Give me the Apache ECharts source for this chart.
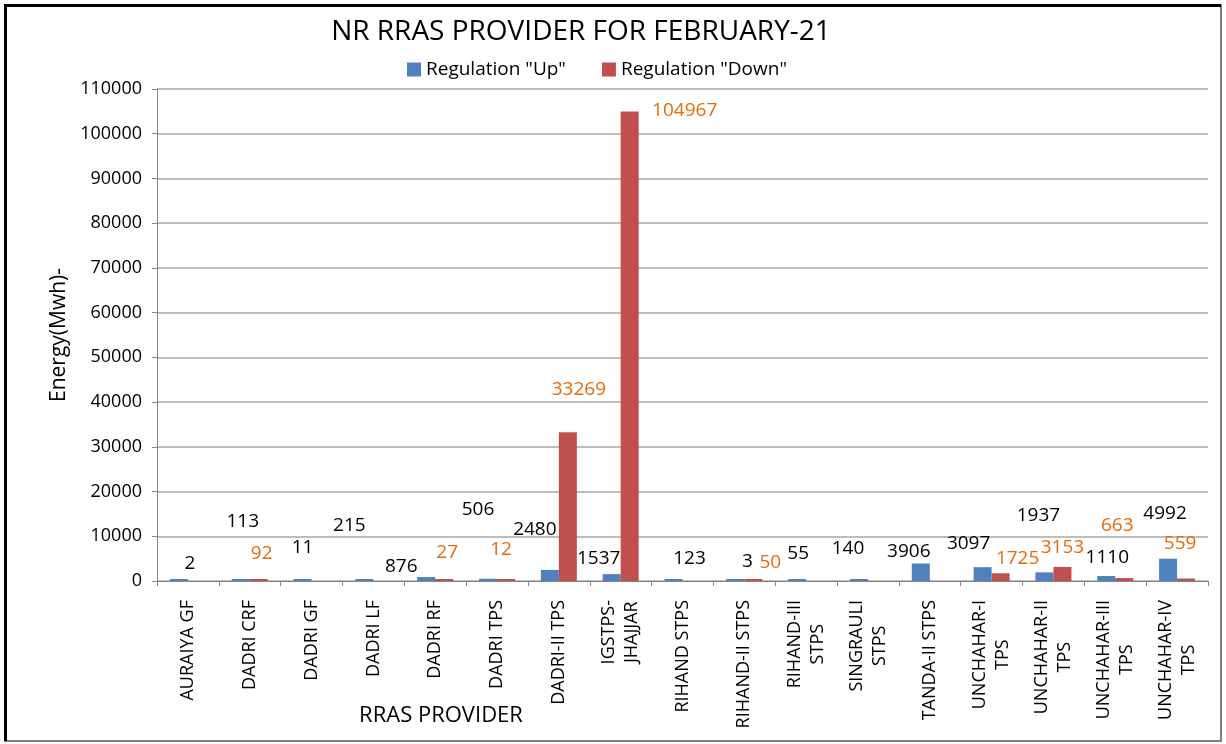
<!DOCTYPE html>
<html>
<head>
<meta charset="utf-8">
<script src="https://cdn.jsdelivr.net/npm/echarts@6/dist/echarts.min.js"></script>
<style>
  html, body { margin: 0; padding: 0; background: #fff; }
  #main { width: 1226px; height: 744px; }
</style>
</head>
<body>
<div id="main"></div>
<script>
// data
var providers = [
  "AURAIYA GF", "DADRI CRF", "DADRI GF", "DADRI LF", "DADRI RF", "DADRI TPS",
  "DADRI-II TPS", "IGSTPS-\nJHAJJAR", "RIHAND STPS", "RIHAND-II STPS",
  "RIHAND-III\nSTPS", "SINGRAULI\nSTPS", "TANDA-II STPS", "UNCHAHAR-I\nTPS",
  "UNCHAHAR-II\nTPS", "UNCHAHAR-III\nTPS", "UNCHAHAR-IV\nTPS"
];
var regUp = [2, 113, 11, 215, 876, 506, 2480, 1537, 123, 3, 55, 140, 3906, 3097, 1937, 1110, 4992];
var regDown = [null, 92, null, null, 27, 12, 33269, 104967, null, 50, null, null, null, 1725, 3153, 663, 559];

// label nudges (the original had hand-placed data labels)
var upLabelShift = [[11, -1], [2, -43], [0, -17], [-15, -39], [-25, 4], [-10, -55], [-15, -26], [-13, -1],
  [16, -6], [12, -3], [1, -11], [-11, -16], [-12, 3], [-14, -9], [-6, -42], [1, -4], [-3, -31]];
var downLabelShift = [null, [3, -11], null, null, [3, -12], [-5, -15], [11, -28], [55, 13.5],
  null, [17, -2], null, null, null, [17, 0], [0, -5], [-7, -38], [-6, -20]];

var FONT = "Open Sans";

function withLabels(values, shifts) {
  return values.map(function (v, i) {
    if (v === null) return null;
    return {
      value: v,
      label: { offset: shifts[i] }
    };
  });
}

var myChart = echarts.init(document.getElementById("main"));

var option = {
  animation: false,
  backgroundColor: "#fff",
  textStyle: { fontFamily: FONT },
  title: [
    {
      text: "NR RRAS PROVIDER FOR FEBRUARY-21",
      left: 576,
      top: 13,
      textAlign: "center",
      textStyle: { fontFamily: FONT, fontSize: 28, fontWeight: "normal", color: "#000" }
    },
    {
      text: "RRAS PROVIDER",
      left: 436,
      top: 700,
      textAlign: "center",
      textStyle: { fontFamily: FONT, fontSize: 22, fontWeight: "normal", color: "#000" }
    }
  ],
  legend: {
    left: 402,
    top: 55,
    itemWidth: 14,
    itemHeight: 14,
    itemGap: 36,
    icon: "rect",
    textStyle: { fontFamily: FONT, fontSize: 19, color: "#000" },
    data: ['Regulation "Up"', 'Regulation "Down"']
  },
  grid: { left: 157, right: 18, top: 89, bottom: 163 },
  xAxis: {
    type: "category",
    data: providers,
    axisLine: { lineStyle: { color: "#868686", width: 1 } },
    axisTick: { show: true, length: 5, lineStyle: { color: "#868686" } },
    axisLabel: {
      rotate: 90,
      margin: 19,
      interval: 0,
      formatter: function (v) {
        return v.split("\n").map(function (s) { return "{c|" + s + "}"; }).join("\n");
      },
      rich: {
        c: { align: "center", fontFamily: FONT, fontSize: 18, color: "#000", lineHeight: 23 }
      }
    }
  },
  yAxis: {
    type: "value",
    min: 0,
    max: 110000,
    interval: 10000,
    name: "Energy(Mwh)-",
    nameLocation: "middle",
    nameGap: 84,
    nameTextStyle: { fontFamily: FONT, fontSize: 21, color: "#000" },
    axisLine: { show: true, lineStyle: { color: "#868686", width: 1 } },
    axisTick: { show: true, length: 5, lineStyle: { color: "#868686" } },
    axisLabel: {
      margin: 15,
      fontFamily: FONT,
      fontSize: 18,
      color: "#000",
      formatter: function (v) { return String(v); }
    },
    splitLine: { lineStyle: { color: "#BDBDBD", width: 2 } }
  },
  series: [
    {
      name: 'Regulation "Up"',
      type: "bar",
      barWidth: 18,
      barGap: "0%",
      barMinHeight: 2,
      itemStyle: { color: "#4F81BD" },
      label: {
        show: true,
        position: "top",
        fontFamily: FONT,
        fontSize: 19,
        color: "#000"
      },
      data: withLabels(regUp, upLabelShift)
    },
    {
      name: 'Regulation "Down"',
      type: "bar",
      barWidth: 18,
      barMinHeight: 2,
      itemStyle: { color: "#C0504D" },
      label: {
        show: true,
        position: "top",
        fontFamily: FONT,
        fontSize: 19,
        color: "#E46C0A"
      },
      data: withLabels(regDown, downLabelShift)
    }
  ],
  graphic: [
    {
      type: "rect",
      silent: true,
      shape: { x: 5, y: 5, width: 1216, height: 736 },
      style: { fill: null, stroke: "#7F7F7F", lineWidth: 2 }
    },
    {
      type: "polyline",
      silent: true,
      shape: { points: [[5.5, 741], [5.5, 5.5], [1221, 5.5]] },
      style: { fill: null, stroke: "#000", lineWidth: 3 }
    }
  ]
};

myChart.setOption(option);
</script>
</body>
</html>
